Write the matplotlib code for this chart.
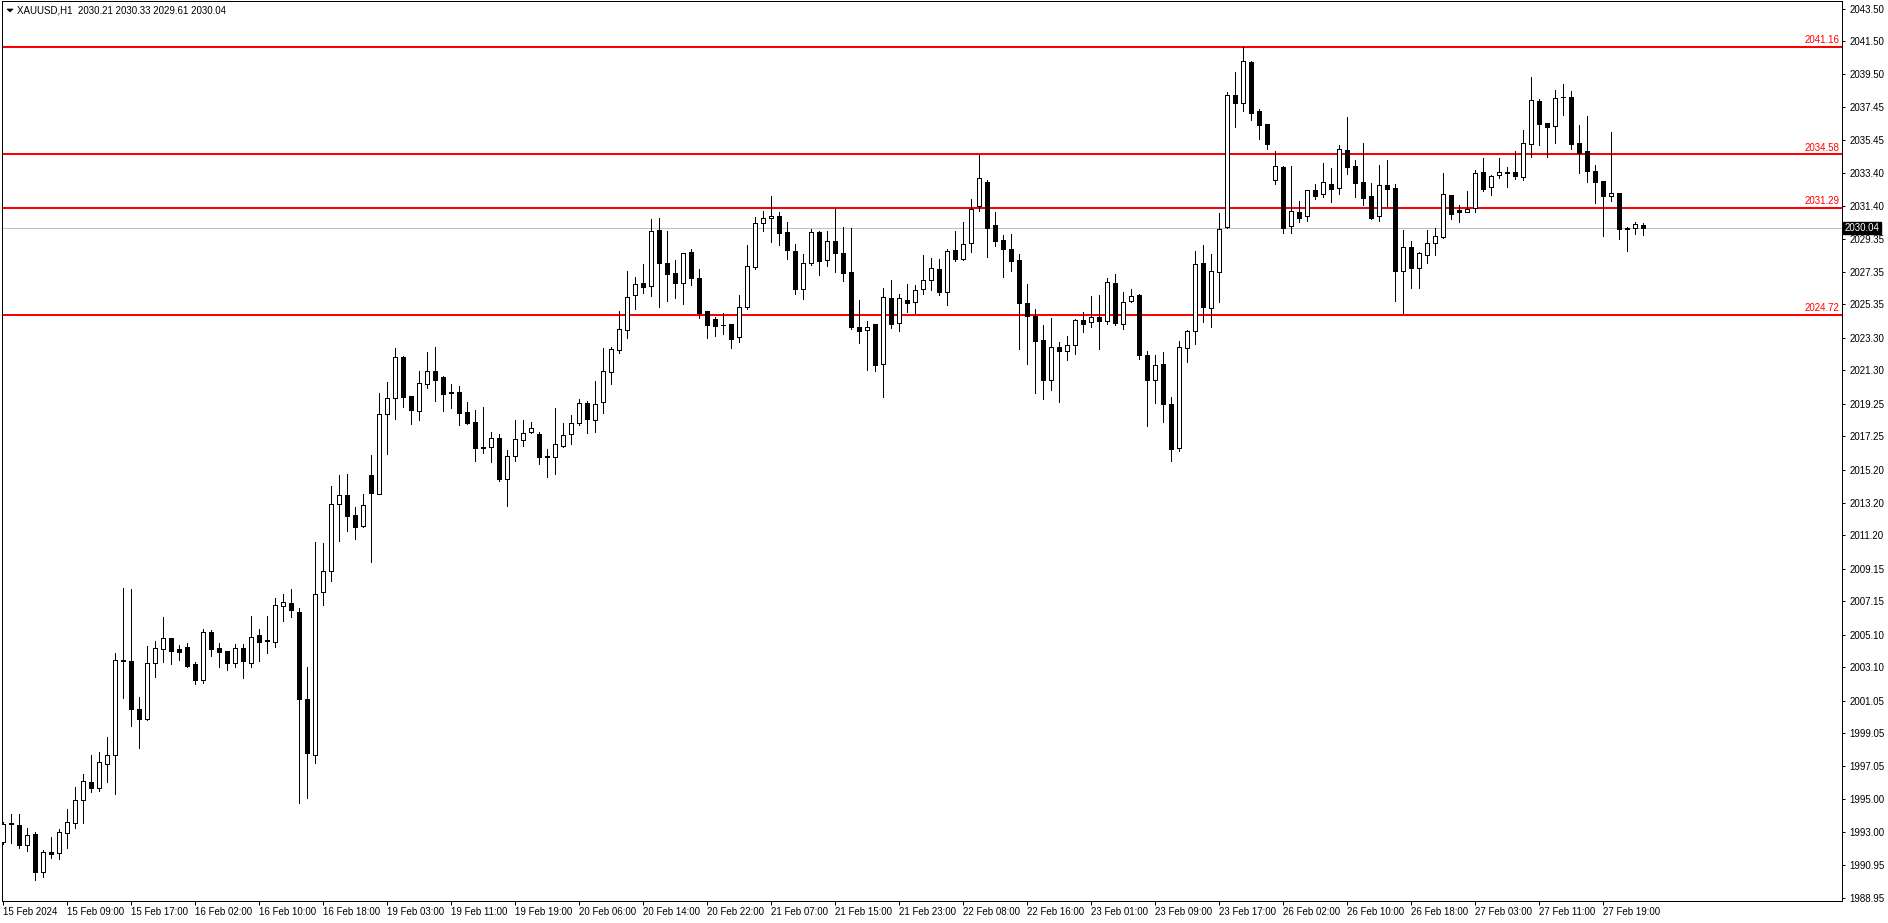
import matplotlib
matplotlib.use("Agg")
import matplotlib.pyplot as plt
from matplotlib.patches import Polygon
from matplotlib.transforms import blended_transform_factory
import numpy as np

# XAUUSD H1 candles (oldest first)
opens = [1992.39, 1993.48, 1993.39, 1992.17, 1992.84, 1990.51, 1991.74, 1991.68, 1992.90, 1993.52,
         1994.93, 1996.03, 1995.66, 1997.18, 1997.69, 2003.50, 2003.46, 2000.51, 1999.90, 2003.37,
         2004.23, 2004.87, 2004.21, 2004.34, 2003.29, 2002.33, 2005.23, 2004.25, 2004.07, 2003.37,
         2004.25, 2003.37, 2005.05, 2004.74, 2004.66, 2006.87, 2007.01, 2006.46, 2001.17, 1997.69,
         2007.69, 2008.97, 2013.08, 2013.64, 2012.41, 2011.78, 2014.86, 2013.70, 2018.61, 2019.59,
         2022.10, 2019.71, 2018.79, 2020.45, 2021.24, 2020.88, 2019.96, 2019.96, 2018.73, 2018.12,
         2016.58, 2016.62, 2017.13, 2014.66, 2016.07, 2017.01, 2017.50, 2017.38, 2016.03, 2015.97,
         2016.68, 2017.38, 2018.05, 2019.28, 2018.24, 2019.34, 2021.18, 2022.55, 2023.81, 2025.91,
         2026.65, 2026.47, 2029.92, 2027.90, 2027.28, 2026.69, 2028.57, 2026.98, 2024.93, 2024.44,
         2024.11, 2024.16, 2023.34, 2025.18, 2027.67, 2030.33, 2030.64, 2030.76, 2029.78, 2028.63,
         2026.28, 2027.88, 2029.78, 2028.06, 2029.23, 2028.49, 2027.33, 2023.97, 2023.77, 2024.16,
         2021.68, 2025.73, 2024.20, 2025.61, 2025.48, 2026.28, 2026.83, 2027.53, 2026.10, 2028.70,
         2028.16, 2029.10, 2031.41, 2032.84, 2030.20, 2029.28, 2028.77, 2028.06, 2025.42, 2024.66,
         2023.15, 2020.73, 2022.72, 2022.47, 2022.84, 2024.37, 2024.25, 2024.56, 2024.31, 2026.64,
         2024.13, 2025.54, 2025.91, 2022.23, 2020.69, 2021.68, 2019.22, 2016.56, 2022.66, 2023.70,
         2027.87, 2025.11, 2027.32, 2030.08, 2038.18, 2037.69, 2040.22, 2037.22, 2036.42, 2032.96,
         2033.78, 2030.14, 2031.02, 2030.75, 2032.35, 2032.14, 2032.72, 2032.51, 2034.80, 2033.84,
         2032.84, 2032.00, 2030.75, 2032.65, 2032.47, 2027.42, 2028.90, 2027.56, 2028.39, 2029.11,
         2029.46, 2032.04, 2031.16, 2031.04, 2031.28, 2033.45, 2032.57, 2033.31, 2033.45, 2033.45,
         2033.19, 2035.17, 2037.83, 2036.46, 2036.27, 2038.05, 2038.07, 2035.23, 2034.74, 2033.57,
         2032.90, 2032.02, 2032.16, 2030.00, 2030.03, 2030.21]
highs = [1993.62, 1994.09, 1994.09, 1993.21, 1992.98, 1991.88, 1992.66, 1993.15, 1994.38, 1995.75,
         1996.52, 1997.71, 1997.89, 1998.81, 2003.95, 2007.98, 2007.89, 2001.25, 2004.40, 2004.68,
         2006.17, 2004.90, 2004.46, 2004.58, 2003.41, 2005.44, 2005.38, 2004.58, 2004.10, 2004.52,
         2004.52, 2006.24, 2005.44, 2006.24, 2007.34, 2007.59, 2007.89, 2006.73, 2003.09, 2010.78,
         2010.71, 2014.21, 2014.88, 2014.95, 2012.90, 2013.72, 2016.09, 2019.89, 2020.59, 2022.66,
         2022.19, 2019.75, 2021.24, 2022.41, 2022.72, 2020.99, 2020.47, 2020.35, 2019.36, 2018.87,
         2019.06, 2017.52, 2017.40, 2016.42, 2018.26, 2018.26, 2018.14, 2017.50, 2016.48, 2018.99,
         2018.05, 2018.57, 2019.53, 2019.40, 2020.65, 2022.66, 2022.72, 2024.97, 2027.42, 2027.06,
         2027.84, 2030.60, 2030.66, 2029.86, 2028.08, 2028.49, 2028.76, 2027.53, 2024.95, 2024.58,
         2024.81, 2024.18, 2025.93, 2029.00, 2030.72, 2031.09, 2032.01, 2031.03, 2030.41, 2029.04,
         2028.43, 2029.98, 2029.86, 2029.86, 2031.23, 2030.11, 2030.04, 2025.63, 2024.32, 2024.18,
         2026.36, 2026.85, 2025.98, 2026.61, 2026.55, 2028.39, 2028.20, 2028.14, 2028.76, 2029.86,
         2030.41, 2031.82, 2034.52, 2032.96, 2031.02, 2029.59, 2029.65, 2028.42, 2026.58, 2025.05,
         2024.09, 2024.50, 2023.02, 2023.41, 2024.46, 2024.89, 2025.87, 2025.91, 2026.95, 2027.20,
         2026.09, 2026.28, 2025.97, 2022.47, 2022.23, 2022.41, 2019.65, 2023.09, 2023.78, 2028.63,
         2028.98, 2028.42, 2030.98, 2038.38, 2039.61, 2041.16, 2040.26, 2037.34, 2036.45, 2034.76,
         2033.86, 2033.84, 2031.67, 2032.40, 2032.72, 2034.02, 2033.72, 2035.11, 2036.85, 2034.21,
         2035.25, 2032.78, 2033.88, 2034.21, 2032.72, 2029.94, 2029.26, 2028.57, 2029.91, 2030.05,
         2033.39, 2032.05, 2031.43, 2032.31, 2033.59, 2034.33, 2033.27, 2034.33, 2033.78, 2034.74,
         2036.05, 2039.32, 2037.95, 2036.48, 2038.50, 2038.87, 2038.44, 2036.36, 2036.91, 2033.88,
         2032.92, 2035.93, 2032.22, 2030.12, 2030.41, 2030.33]
lows = [1992.23, 1992.33, 1992.02, 1991.82, 1990.02, 1990.20, 1991.41, 1991.31, 1991.98, 1993.25,
        1993.56, 1995.46, 1995.52, 1996.07, 1995.30, 2001.23, 1999.51, 1998.16, 1999.88, 2002.51,
        2003.41, 2003.31, 2003.54, 2003.11, 2002.09, 2002.15, 2003.80, 2003.13, 2002.94, 2003.09,
        2002.45, 2003.13, 2003.50, 2003.99, 2004.36, 2005.95, 2006.20, 1994.74, 1995.09, 1997.24,
        2006.93, 2008.40, 2010.86, 2011.47, 2010.98, 2011.71, 2009.57, 2013.70, 2016.19, 2018.34,
        2019.08, 2018.03, 2018.28, 2020.24, 2019.44, 2018.83, 2019.02, 2017.95, 2018.01, 2015.76,
        2016.23, 2015.70, 2014.54, 2013.00, 2015.76, 2016.68, 2017.48, 2015.58, 2014.78, 2014.97,
        2016.62, 2016.81, 2017.97, 2017.48, 2017.54, 2018.71, 2020.49, 2022.37, 2023.27, 2025.08,
        2026.04, 2025.89, 2025.22, 2025.59, 2025.77, 2025.38, 2026.57, 2024.54, 2023.32, 2023.44,
        2023.56, 2022.70, 2023.07, 2025.08, 2027.55, 2029.88, 2029.19, 2029.02, 2028.16, 2025.99,
        2025.69, 2027.78, 2027.18, 2027.73, 2027.35, 2026.81, 2023.87, 2023.01, 2021.31, 2021.25,
        2019.70, 2023.89, 2023.75, 2024.89, 2024.85, 2026.02, 2026.26, 2025.91, 2025.34, 2028.00,
        2028.10, 2028.59, 2031.10, 2028.26, 2028.96, 2027.05, 2027.42, 2022.64, 2021.72, 2019.94,
        2019.53, 2020.08, 2019.39, 2021.96, 2022.33, 2023.68, 2023.99, 2022.60, 2024.13, 2024.07,
        2023.86, 2025.48, 2021.98, 2017.91, 2019.32, 2018.16, 2015.77, 2016.38, 2021.84, 2022.90,
        2024.29, 2023.95, 2025.52, 2030.05, 2036.26, 2037.24, 2036.69, 2035.52, 2034.91, 2032.76,
        2029.75, 2029.75, 2030.42, 2030.49, 2031.82, 2031.96, 2031.63, 2032.12, 2033.35, 2031.96,
        2031.47, 2030.59, 2030.49, 2031.41, 2025.55, 2024.85, 2026.34, 2026.34, 2027.92, 2028.39,
        2029.45, 2030.61, 2030.42, 2031.00, 2031.04, 2032.33, 2032.08, 2033.12, 2032.57, 2033.06,
        2033.00, 2034.41, 2035.13, 2034.41, 2035.27, 2036.95, 2034.90, 2033.39, 2032.88, 2031.59,
        2029.55, 2031.71, 2029.34, 2028.61, 2029.66, 2029.61]
closes = [1993.46, 1993.52, 1992.21, 1992.78, 1990.51, 1991.74, 1991.63, 1992.96, 1993.58, 1994.93,
          1996.09, 1995.70, 1997.26, 1997.69, 2003.52, 2003.55, 2000.55, 1999.90, 2003.37, 2004.25,
          2004.87, 2004.11, 2004.05, 2003.17, 2002.33, 2005.23, 2004.23, 2004.05, 2003.37, 2004.25,
          2003.50, 2004.93, 2004.66, 2004.70, 2006.89, 2007.08, 2006.63, 2001.17, 1997.81, 2007.57,
          2008.99, 2013.08, 2013.64, 2012.39, 2011.67, 2013.02, 2013.76, 2018.61, 2019.59, 2022.10,
          2019.69, 2018.85, 2020.51, 2021.24, 2020.73, 2019.87, 2019.91, 2018.71, 2018.10, 2016.52,
          2016.52, 2017.13, 2014.66, 2016.03, 2017.07, 2017.44, 2017.75, 2016.01, 2015.99, 2016.77,
          2017.32, 2018.05, 2019.28, 2018.30, 2019.22, 2021.24, 2022.59, 2023.85, 2025.83, 2026.63,
          2026.45, 2029.86, 2027.92, 2027.24, 2026.69, 2028.49, 2027.00, 2024.85, 2024.11, 2024.05,
          2024.07, 2023.26, 2025.18, 2027.69, 2030.33, 2030.64, 2030.76, 2029.76, 2028.67, 2026.32,
          2027.88, 2029.78, 2028.04, 2029.23, 2028.53, 2027.30, 2023.99, 2023.73, 2023.99, 2021.62,
          2025.79, 2024.13, 2025.73, 2025.46, 2026.22, 2026.83, 2027.57, 2026.10, 2028.63, 2028.16,
          2029.04, 2031.23, 2033.09, 2030.06, 2029.26, 2028.77, 2028.04, 2025.46, 2024.62, 2023.13,
          2020.73, 2022.72, 2022.47, 2022.84, 2024.37, 2024.13, 2024.56, 2024.31, 2026.71, 2024.19,
          2025.48, 2025.85, 2022.23, 2020.69, 2021.61, 2019.26, 2016.50, 2022.72, 2023.70, 2027.81,
          2025.17, 2027.38, 2030.00, 2038.18, 2037.69, 2040.26, 2037.11, 2036.38, 2035.21, 2033.84,
          2030.06, 2031.06, 2030.67, 2032.35, 2032.02, 2032.84, 2032.43, 2034.86, 2033.80, 2032.82,
          2031.90, 2030.65, 2032.65, 2032.41, 2027.42, 2028.90, 2027.56, 2028.50, 2029.11, 2029.55,
          2032.10, 2030.92, 2031.04, 2031.18, 2033.39, 2032.45, 2033.21, 2033.49, 2033.43, 2033.25,
          2035.23, 2037.89, 2036.40, 2036.21, 2037.99, 2038.09, 2035.21, 2034.62, 2033.55, 2032.88,
          2032.02, 2032.16, 2030.00, 2030.05, 2030.27, 2030.04]

time_labels = ["15 Feb 2024", "15 Feb 09:00", "15 Feb 17:00", "16 Feb 02:00", "16 Feb 10:00",
               "16 Feb 18:00", "19 Feb 03:00", "19 Feb 11:00", "19 Feb 19:00", "20 Feb 06:00",
               "20 Feb 14:00", "20 Feb 22:00", "21 Feb 07:00", "21 Feb 15:00", "21 Feb 23:00",
               "22 Feb 08:00", "22 Feb 16:00", "23 Feb 01:00", "23 Feb 09:00", "23 Feb 17:00",
               "26 Feb 02:00", "26 Feb 10:00", "26 Feb 18:00", "27 Feb 03:00", "27 Feb 11:00",
               "27 Feb 19:00"]
label_step = 8  # one time label every 8 bars

price_ticks = [2043.50, 2041.50, 2039.50, 2037.45, 2035.45, 2033.40, 2031.40, 2029.35, 2027.35,
               2025.35, 2023.30, 2021.30, 2019.25, 2017.25, 2015.20, 2013.20, 2011.20, 2009.15,
               2007.15, 2005.10, 2003.10, 2001.05, 1999.05, 1997.05, 1995.00, 1993.00, 1990.95,
               1988.95]

levels = [2041.16, 2034.58, 2031.29, 2024.72]
symbol = "XAUUSD,H1"

W, H = 1888, 923
plt.rcParams['font.family'] = ['Liberation Sans', 'DejaVu Sans']
px = 72 / 100  # one pixel in points

fig = plt.figure(figsize=(W / 100, H / 100), dpi=100, facecolor='white')
left, right, top, bottom = 2.3, 1842, 1.0, 901
ax = fig.add_axes([left / W, 1 - bottom / H, (right - left) / W, (bottom - top) / H])

o = np.array(opens)
hi = np.array(highs)
lo = np.array(lows)
c = np.array(closes)
x = np.arange(len(o))
up = c >= o

# wicks, then bodies on top
ax.vlines(x, lo, hi, color='black', lw=px, zorder=3, antialiased=False)
body_lo = np.minimum(o, c)
body_h = np.abs(c - o)
ax.bar(x[up], body_h[up], bottom=body_lo[up], width=0.5, facecolor='white',
       edgecolor='black', linewidth=px, zorder=4, antialiased=False)
ax.bar(x[~up], body_h[~up], bottom=body_lo[~up], width=0.5, facecolor='black',
       edgecolor='black', linewidth=px, zorder=4, antialiased=False)

# horizontal levels
for lv in levels:
    ax.axhline(lv, color='#ff0000', lw=2 * px, zorder=2)
    ax.annotate(f"{lv:.2f}", xy=(1, lv), xycoords=('axes fraction', 'data'),
                xytext=(-2, 1), textcoords='offset points', ha='right', va='bottom',
                color='#ff0000', fontsize=7)

# bid line and price tag
last = closes[-1]
ax.axhline(last, color='#c0c0c0', lw=px, zorder=1)
tr = blended_transform_factory(ax.transAxes, ax.transData)
ax.text(1.0015, last, f"{last:.2f}", transform=tr, ha='left', va='center', color='white',
        fontsize=7, bbox=dict(boxstyle='square,pad=0.15', fc='black', ec='black'),
        clip_on=False, zorder=6)

ax.set_xlim(-0.125, 229.84)
ax.set_ylim(1988.75, 2043.97)

ax.yaxis.tick_right()
ax.set_yticks(price_ticks)
ax.set_yticklabels([f"{p:.2f}" for p in price_ticks])
ax.tick_params(axis='y', direction='out', length=3 * px, width=px, pad=3, labelsize=7)

xt = np.arange(len(time_labels)) * label_step
ax.set_xticks(xt)
ax.set_xticklabels(time_labels, ha='left')
ax.tick_params(axis='x', direction='out', length=4 * px, width=px, pad=1.5, labelsize=7)
for spine in ax.spines.values():
    spine.set_linewidth(px)
    spine.set_color('black')

# header: small dropdown triangle and symbol with last bar OHLC
tri = Polygon([[7 / W, 1 - 9 / H], [13 / W, 1 - 9 / H], [10 / W, 1 - 12 / H]], closed=True,
              transform=fig.transFigure, fc='black', ec='black', lw=0.5)
fig.patches.append(tri)
fig.text(17 / W, 1 - 10.5 / H,
         f"{symbol}  {opens[-1]:.2f} {highs[-1]:.2f} {lows[-1]:.2f} {closes[-1]:.2f}",
         ha='left', va='center', fontsize=7, color='black')

fig.savefig("out.png", dpi=100, facecolor='white')
